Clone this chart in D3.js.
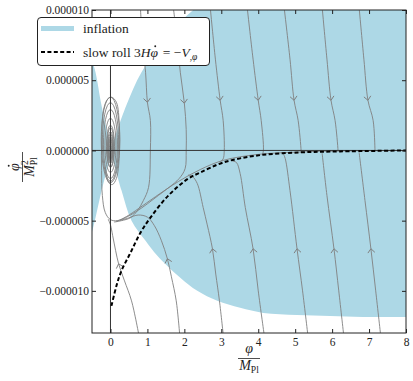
<!DOCTYPE html>
<html>
<head>
<meta charset="utf-8">
<script src="https://cdn.jsdelivr.net/npm/d3@7"></script>
<style>
  body { margin: 0; background: #fff; }
  svg text { font-family: "Liberation Serif", "DejaVu Serif", serif; fill: #222; }
</style>
</head>
<body>
<div id="chart"></div>
<script>
/* phase space of the inflaton: phi in M_Pl, phidot in units of 1e-6 M_Pl^2 */
var xTicks = [0, 1, 2, 3, 4, 5, 6, 7, 8]
var yTicks = [-10, -5, 0, 5, 10]

/* edges of the inflating region */
var inflUpperLeft = [[-0.6, 7.0], [-0.486, 6.29], [-0.405, 5.57], [-0.243, 3.21], [-0.054, 0.86], [0, 0]]
var inflLowerLeft = [[-0.6, -6.6], [-0.514, -5.93], [-0.405, -4.79], [-0.24, -2.86], [-0.035, -0.71], [0, 0]]
var inflUpperRight = [[0, 0], [0.43, 3.21], [0.84, 5.57], [1.5, 8.0], [2.24, 10.0], [2.97, 11.3], [4.05, 11.7], [5.5, 11.82], [8.3, 11.86]]
var inflLowerRight = [[0, 0], [0.30, -2.86], [0.57, -5.0], [0.95, -6.43], [1.27, -7.5], [1.89, -9.07], [2.35, -10.0],
  [2.89, -10.71], [3.51, -11.21], [4.14, -11.57], [5.05, -11.71], [5.95, -11.79], [6.84, -11.86], [8.3, -11.86]]

/* slow roll line 3H phidot = -V' */
var slowRoll = [[0.027, -11.07], [0.162, -9.64], [0.297, -8.57], [0.541, -7.29], [0.811, -5.86], [1.081, -4.79],
  [1.568, -3.21], [2.108, -2.0], [2.432, -1.57], [3.054, -0.86], [3.973, -0.36], [5.135, -0.14], [6.216, -0.07], [8.1, 0]]

/* trajectories, in the direction of the flow */
var trajU1 = [[0.81, 10.2], [0.86, 8.0], [0.95, 5.57], [1.0, 3.43], [1.08, 2.14], [1.08, 0], [1.03, -2.64], [0.89, -3.57], [0.73, -4.29], [0.54, -4.79], [0.3, -5.0], [0.1, -5.1]]
var trajU2 = [[1.70, 10.2], [1.8, 8.0], [1.89, 5.57], [2.0, 3.36], [2.05, 1.5], [2.05, 0], [2.02, -1.3], [1.86, -2.0], [1.6, -2.6], [1.3, -3.2], [1.0, -3.8], [0.7, -4.35], [0.4, -4.8], [0.15, -5.05]]
var trajU3 = [[2.70, 10.2], [2.84, 6.5], [2.97, 3.57], [3.05, 2.14], [3.08, 0], [3.05, -0.6], [2.97, -0.8]]
var trajU4 = [[3.70, 10.2], [3.86, 6.5], [4.0, 3.57], [4.08, 2.14], [4.14, 0], [4.11, -0.33]]
var trajU5 = [[4.70, 10.2], [4.86, 6.5], [4.97, 3.57], [5.08, 2.14], [5.16, 0], [5.16, -0.14]]
var trajU6 = [[5.73, 10.2], [5.86, 6.5], [5.97, 3.57], [6.08, 2.14], [6.16, 0], [6.16, -0.08]]
var trajU7 = [[6.73, 10.2], [6.86, 6.5], [6.97, 3.57], [7.11, 2.14], [7.16, 0], [7.16, -0.05]]
var trajL1 = [[0.78, -13.3], [0.57, -10.71], [0.38, -9.29], [0.22, -8.07], [0.14, -7.14], [0.06, -6.07], [0.0, -5.3], [-0.06, -4.9]]
var trajL2 = [[1.88, -13.3], [1.78, -10.71], [1.65, -9.0], [1.54, -7.71], [1.38, -6.43], [1.19, -5.36], [1.0, -4.75], [0.75, -4.6], [0.5, -4.8], [0.25, -5.0]]
var trajL3 = [[3.06, -13.3], [2.95, -10.71], [2.85, -8.8], [2.76, -7.0], [2.62, -5.3], [2.51, -4.07], [2.35, -2.36], [2.22, -1.86], [2.1, -1.75]]
var trajL4 = [[4.17, -13.3], [4.0, -10.0], [3.86, -7.0], [3.65, -4.07], [3.51, -1.64], [3.41, -0.86], [3.3, -0.75]]
var trajL5 = [[5.35, -13.3], [5.2, -10.0], [5.05, -7.0], [4.86, -2.86], [4.73, -0.57], [4.68, -0.25]]
var trajL6 = [[6.32, -13.3], [6.18, -10.0], [6.05, -7.0], [5.86, -3.21], [5.73, -0.2]]
var trajL7 = [[7.32, -13.3], [7.18, -10.0], [7.05, -7.0], [6.89, -3.57], [6.73, -0.12]]
var attractor = [[8.2, 0], [6.22, -0.04], [5.14, -0.11], [3.97, -0.29], [3.05, -0.71], [2.43, -1.36], [1.84, -2.21], [1.22, -3.29],
  [0.76, -4.14], [0.43, -4.71], [0.19, -5.0], [0, -4.93], [-0.14, -4.43], [-0.22, -3.21], [-0.24, -1.43], [-0.24, 0.71],
  [-0.19, 2.86], [-0.08, 3.64], [0.03, 3.79], [0.16, 3.43], [0.24, 1.79], [0.24, -0.36], [0.16, -2.0], [0.05, -2.43], [-0.05, -2.29], [-0.14, -1.2]]

var trajectories = [trajU1, trajU2, trajU3, trajU4, trajU5, trajU6, trajU7, trajL1, trajL2, trajL3, trajL4, trajL5, trajL6, trajL7, attractor]
var arrowIndex = [3, 3, 2, 2, 2, 2, 2, 3, 3, 3, 2, 2, 2, 2, -1]

/* loops of the spiral around the minimum */
var spiralCy = [0.75, 0.6, 0.45, 0.36, 0.29, 0.24, 0.21, 0.17, 0.14, 0.11, 0.08, 0.04]
var spiralRx = [0.25, 0.22, 0.19, 0.15, 0.11, 0.095, 0.08, 0.07, 0.06, 0.05, 0.045, 0.03]
var spiralRy = [3.05, 2.8, 2.46, 1.93, 1.5, 1.4, 1.14, 1.0, 0.86, 0.75, 0.64, 0.45]

var colors = {
  inflation: "#add8e6",
  traj: "#808080",
  frame: "#222"
}

var width = 413
    height = 381
    plot = { left: 92, right: 406, top: 10, bottom: 333 }

var x = d3.scaleLinear().domain([-0.5, 8]).range([plot.left, plot.right])
var y = d3.scaleLinear().domain([-13, 10]).range([plot.bottom, plot.top])

var svg = d3.select("#chart").append("svg")
  .attr("width", width)
  .attr("height", height)

svg.append("defs").append("clipPath").attr("id", "plotClip")
  .append("rect")
  .attr("x", plot.left).attr("y", plot.top)
  .attr("width", plot.right - plot.left).attr("height", plot.bottom - plot.top)

var area = svg.append("g").attr("clip-path", "url(#plotClip)")

var smooth = d3.line()
  .x(function(d) { return x(d[0]) })
  .y(function(d) { return y(d[1]) })
  .curve(d3.curveCatmullRom.alpha(0.5))

function lobe(upper, lower) {
  var back = smooth(lower.slice().reverse())
  return smooth(upper) + "L" + back.slice(1) + "Z"
}

/* inflating region */
area.append("path").attr("d", lobe(inflUpperLeft, inflLowerLeft)).attr("fill", colors.inflation)
area.append("path").attr("d", lobe(inflUpperRight, inflLowerRight)).attr("fill", colors.inflation)

/* spiral loops */
area.selectAll(".loop").data(spiralCy).enter()
  .append("ellipse")
  .attr("class", "loop")
  .attr("cx", x(0))
  .attr("cy", function(d) { return y(d) })
  .attr("rx", function(d, i) { return x(spiralRx[i]) - x(0) })
  .attr("ry", function(d, i) { return y(0) - y(spiralRy[i]) })
  .attr("fill", "none")
  .attr("stroke", colors.traj)
  .attr("stroke-width", 0.9)

/* trajectories */
area.selectAll(".traj").data(trajectories).enter()
  .append("path")
  .attr("class", "traj")
  .attr("d", smooth)
  .attr("fill", "none")
  .attr("stroke", colors.traj)
  .attr("stroke-width", 0.9)

/* open chevrons showing the flow */
function chevron(pts, k) {
  var a = pts[k - 1], b = pts[k + 1]
  var ang = Math.atan2(y(b[1]) - y(a[1]), x(b[0]) - x(a[0]))
  var tx = x(pts[k][0]), ty = y(pts[k][1])
  var len = 5.3, spread = 0.72
  var p1 = [tx - len * Math.cos(ang - spread), ty - len * Math.sin(ang - spread)]
  var p2 = [tx - len * Math.cos(ang + spread), ty - len * Math.sin(ang + spread)]
  return "M" + p1 + "L" + tx + "," + ty + "L" + p2
}

area.selectAll(".arrow").data(trajectories.filter(function(d, i) { return arrowIndex[i] > 0 })).enter()
  .append("path")
  .attr("class", "arrow")
  .attr("d", function(d) { return chevron(d, arrowIndex[trajectories.indexOf(d)]) })
  .attr("fill", "none")
  .attr("stroke", colors.traj)
  .attr("stroke-width", 1)

/* zero lines */
area.append("line")
  .attr("x1", plot.left).attr("x2", plot.right)
  .attr("y1", y(0)).attr("y2", y(0))
  .attr("stroke", "#333").attr("stroke-width", 1)
area.append("line")
  .attr("x1", x(0)).attr("x2", x(0))
  .attr("y1", plot.top).attr("y2", plot.bottom)
  .attr("stroke", "#333").attr("stroke-width", 1)

/* slow roll line */
area.append("path")
  .attr("d", smooth(slowRoll))
  .attr("fill", "none")
  .attr("stroke", "#000")
  .attr("stroke-width", 2)
  .attr("stroke-dasharray", "4,2.4")

/* axes with inward ticks on all sides */
function styleAxis(g) {
  g.select(".domain").remove()
  g.selectAll("line").attr("stroke", colors.frame)
  g.attr("font-family", null).attr("font-size", 11.5)
  g.selectAll("text").attr("fill", "#222")
}

svg.append("g")
  .attr("transform", "translate(0," + plot.bottom + ")")
  .call(d3.axisBottom(x).tickValues(xTicks).tickSize(-4).tickPadding(5).tickFormat(d3.format("d")))
  .call(styleAxis)
svg.append("g")
  .attr("transform", "translate(0," + plot.top + ")")
  .call(d3.axisTop(x).tickValues(xTicks).tickSize(-4).tickFormat(""))
  .call(styleAxis)
svg.append("g")
  .attr("transform", "translate(" + plot.left + ",0)")
  .call(d3.axisLeft(y).tickValues(yTicks).tickSize(-4).tickPadding(3)
    .tickFormat(function(d) { return d3.format(".6f")(d * 1e-6) }))
  .call(styleAxis)
svg.append("g")
  .attr("transform", "translate(" + plot.right + ",0)")
  .call(d3.axisRight(y).tickValues(yTicks).tickSize(-4).tickFormat(""))
  .call(styleAxis)

svg.append("rect")
  .attr("x", plot.left).attr("y", plot.top)
  .attr("width", plot.right - plot.left).attr("height", plot.bottom - plot.top)
  .attr("fill", "none").attr("stroke", colors.frame).attr("stroke-width", 1)

/* legend */
var legend = svg.append("g")
legend.append("rect")
  .attr("x", 37.5).attr("y", 17.5).attr("width", 172).attr("height", 48).attr("rx", 3.5)
  .attr("fill", "#fff").attr("stroke", "#222").attr("stroke-width", 1)
legend.append("line")
  .attr("x1", 41).attr("x2", 74).attr("y1", 28.5).attr("y2", 28.5)
  .attr("stroke", colors.inflation).attr("stroke-width", 5)
legend.append("line")
  .attr("x1", 41).attr("x2", 74).attr("y1", 52).attr("y2", 52)
  .attr("stroke", "#000").attr("stroke-width", 2).attr("stroke-dasharray", "4,2.4")
legend.append("text").attr("x", 83).attr("y", 33).attr("font-size", 13.5).text("inflation")
var srText = legend.append("text").attr("x", 83).attr("y", 57).attr("font-size", 13.5)
srText.append("tspan").text("slow roll 3")
srText.append("tspan").attr("font-style", "italic").text("Hφ")
srText.append("tspan").attr("dx", 1.5).text(" = \u2212")
srText.append("tspan").attr("font-style", "italic").text("V")
srText.append("tspan").attr("font-size", 9.5).attr("dy", 3).text(",")
srText.append("tspan").attr("font-size", 9.5).attr("font-style", "italic").text("φ")

/* time-derivative dot over the legend's phi */
var phiBox = srText.node().getExtentOfChar("slow roll 3H".length)
legend.append("circle")
  .attr("cx", phiBox.x + phiBox.width / 2 + 1)
  .attr("cy", phiBox.y + 1.2)
  .attr("r", 0.95)
  .attr("fill", "#222")

/* axis labels as fractions */
var xLab = svg.append("g").attr("transform", "translate(" + (plot.left + plot.right) / 2 + ",0)")
xLab.append("text").attr("text-anchor", "middle").attr("y", 353).attr("font-size", 14).attr("font-style", "italic").text("φ")
xLab.append("line").attr("x1", -11).attr("x2", 11).attr("y1", 358.5).attr("y2", 358.5).attr("stroke", "#222").attr("stroke-width", 0.8)
var xDen = xLab.append("text").attr("text-anchor", "middle").attr("y", 370).attr("font-size", 14)
xDen.append("tspan").attr("font-style", "italic").text("M")
xDen.append("tspan").attr("font-size", 9.5).attr("dy", 2.5).text("Pl")

var yLab = svg.append("g").attr("transform", "translate(22,167) rotate(-90)")
yLab.append("text").attr("text-anchor", "middle").attr("y", -3).attr("font-size", 14).attr("font-style", "italic").text("φ")
yLab.append("circle").attr("cx", 1.2).attr("cy", -13.3).attr("r", 0.95).attr("fill", "#222")
yLab.append("line").attr("x1", -15).attr("x2", 15).attr("y1", 0.5).attr("y2", 0.5).attr("stroke", "#222").attr("stroke-width", 0.8)
var yDen = yLab.append("text").attr("text-anchor", "middle").attr("y", 12).attr("font-size", 14)
yDen.append("tspan").attr("font-style", "italic").text("M")
yDen.append("tspan").attr("font-size", 9.5).attr("dy", -6).text("2")
yDen.append("tspan").attr("font-size", 9.5).attr("dx", -5).attr("dy", 9).text("Pl")
</script>
</body>
</html>
